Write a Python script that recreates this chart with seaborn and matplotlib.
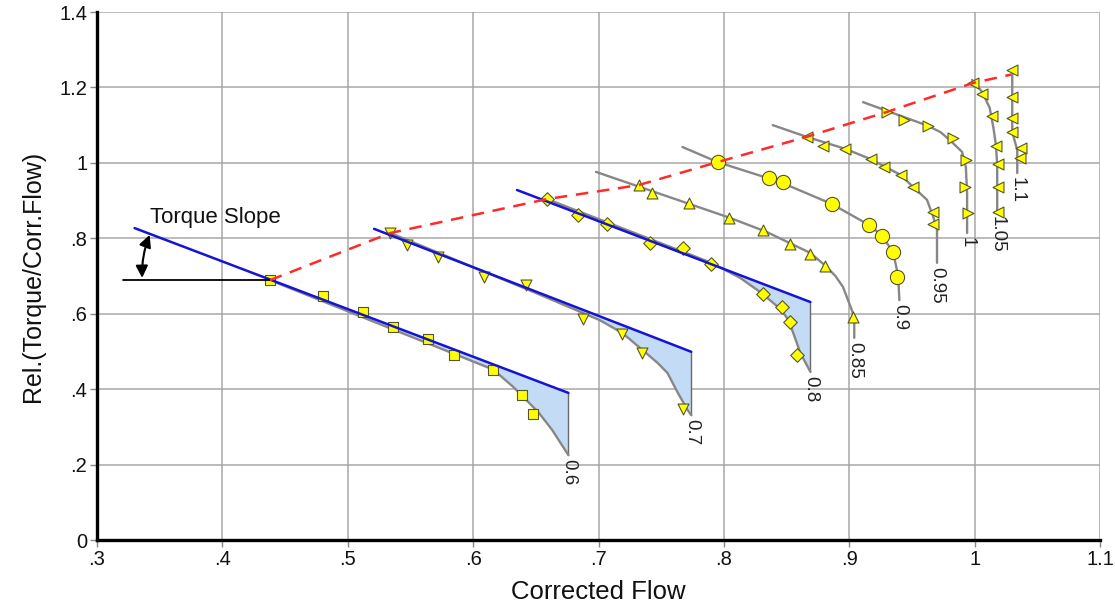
import matplotlib
matplotlib.use("Agg")
import matplotlib.pyplot as plt
from matplotlib import font_manager
import numpy as np
import pandas as pd
import seaborn as sns

# ---------------- data ----------------
x_ticks = [0.3, 0.4, 0.5, 0.6, 0.7, 0.8, 0.9, 1.0, 1.1]
x_tick_labels = [".3", ".4", ".5", ".6", ".7", ".8", ".9", "1", "1.1"]
y_ticks = [0.0, 0.2, 0.4, 0.6, 0.8, 1.0, 1.2, 1.4]
y_tick_labels = ["0", ".2", ".4", ".6", ".8", "1", "1.2", "1.4"]

speed_labels = ["0.6", "0.7", "0.8", "0.85", "0.9", "0.95", "1", "1.05", "1.1"]

# speed lines (grey curves)
c06_x = [0.438, 0.616, 0.632, 0.652, 0.663, 0.676]
c06_y = [0.689, 0.452, 0.406, 0.339, 0.292, 0.225]
c07_x = [0.534, 0.650, 0.701, 0.719, 0.735, 0.747, 0.755, 0.763, 0.771, 0.774]
c07_y = [0.814, 0.655, 0.583, 0.549, 0.504, 0.470, 0.443, 0.392, 0.345, 0.331]
c08_x = [0.659, 0.790, 0.813, 0.830, 0.846, 0.852, 0.855, 0.861, 0.869]
c08_y = [0.904, 0.735, 0.695, 0.655, 0.610, 0.580, 0.552, 0.496, 0.446]
c085_x = [0.698, 0.805, 0.834, 0.869, 0.881, 0.889, 0.895, 0.902, 0.904, 0.904]
c085_y = [0.976, 0.854, 0.817, 0.761, 0.727, 0.700, 0.671, 0.610, 0.591, 0.536]
c09_x = [0.767, 0.795, 0.845, 0.886, 0.917, 0.926, 0.935, 0.939, 0.940]
c09_y = [1.042, 1.002, 0.949, 0.891, 0.833, 0.806, 0.764, 0.700, 0.636]
c095_x = [0.839, 0.866, 0.897, 0.917, 0.941, 0.951, 0.962, 0.967, 0.970, 0.970]
c095_y = [1.100, 1.069, 1.037, 1.010, 0.968, 0.936, 0.902, 0.857, 0.822, 0.735]
c10_x = [0.911, 0.963, 0.973, 0.980, 0.990, 0.993, 0.994, 0.994]
c10_y = [1.161, 1.098, 1.081, 1.061, 1.029, 0.989, 0.920, 0.814]
c105_x = [0.998, 1.006, 1.012, 1.015, 1.017, 1.018, 1.018]
c105_y = [1.220, 1.188, 1.146, 1.093, 1.047, 0.994, 0.870]
c11_x = [1.030, 1.030, 1.034, 1.034]
c11_y = [1.236, 1.082, 1.034, 0.973]

# measured points (markers)
m06_x = [0.438, 0.480, 0.512, 0.536, 0.564, 0.585, 0.616, 0.639, 0.648]
m06_y = [0.689, 0.647, 0.605, 0.565, 0.533, 0.491, 0.451, 0.385, 0.334]
m07_x = [0.534, 0.547, 0.572, 0.609, 0.642, 0.688, 0.719, 0.735, 0.767]
m07_y = [0.814, 0.782, 0.750, 0.697, 0.676, 0.586, 0.546, 0.496, 0.347]
m08_x = [0.659, 0.684, 0.707, 0.741, 0.767, 0.790, 0.831, 0.846, 0.853, 0.858]
m08_y = [0.904, 0.862, 0.838, 0.788, 0.774, 0.732, 0.652, 0.618, 0.578, 0.491]
m085_x = [0.732, 0.743, 0.772, 0.804, 0.831, 0.853, 0.869, 0.881, 0.903]
m085_y = [0.941, 0.920, 0.894, 0.854, 0.822, 0.785, 0.758, 0.727, 0.591]
m09_x = [0.795, 0.836, 0.847, 0.886, 0.916, 0.926, 0.935, 0.938]
m09_y = [1.002, 0.960, 0.949, 0.891, 0.835, 0.806, 0.764, 0.697]
m095_x = [0.866, 0.879, 0.897, 0.917, 0.928, 0.941, 0.951, 0.967, 0.967]
m095_y = [1.069, 1.045, 1.037, 1.010, 0.989, 0.968, 0.936, 0.870, 0.838]
m10_x = [0.930, 0.944, 0.963, 0.983, 0.993, 0.992, 0.995]
m10_y = [1.135, 1.114, 1.098, 1.066, 1.008, 0.936, 0.867]
m105_x = [0.999, 1.006, 1.014, 1.017, 1.019, 1.019, 1.019]
m105_y = [1.212, 1.183, 1.124, 1.045, 0.997, 0.936, 0.870]
m11_x = [1.030, 1.030, 1.030, 1.030, 1.037, 1.036]
m11_y = [1.245, 1.175, 1.119, 1.082, 1.040, 1.013]

# torque slope (blue) lines
b06_x = [0.330, 0.676]
b06_y = [0.827, 0.390]
b07_x = [0.521, 0.774]
b07_y = [0.825, 0.499]
b08_x = [0.635, 0.869]
b08_y = [0.928, 0.631]

# surge line (red dashed)
surge_x = [0.438, 0.534, 0.659, 0.732, 0.795, 0.866, 0.930, 0.999, 1.029]
surge_y = [0.689, 0.814, 0.904, 0.941, 1.002, 1.069, 1.135, 1.212, 1.234]

# torque slope annotation
ts_ref_x = [0.321, 0.438]
ts_ref_y = [0.690, 0.690]

# ---------------- style ----------------
sns.set_theme(style="white")
fams = {f.name for f in font_manager.fontManager.ttflist}
base = "Liberation Sans" if "Liberation Sans" in fams else "DejaVu Sans"
plt.rcParams["font.family"] = [base, "DejaVu Sans"]

fig = plt.figure(figsize=(11.15, 6.07), dpi=100)
ax = fig.add_axes([97 / 1115, 1 - 540 / 607, (1100 - 97) / 1115, (540 - 12) / 607])

GRAY = "#878787"
BLUE = "#1414d2"
FILL = "#c4dbf5"
YEL = "#ffff00"
EDGE = "#55552a"

curves = [(c06_x, c06_y), (c07_x, c07_y), (c08_x, c08_y), (c085_x, c085_y),
          (c09_x, c09_y), (c095_x, c095_y), (c10_x, c10_y), (c105_x, c105_y),
          (c11_x, c11_y)]
markers = [(m06_x, m06_y, "s", 58), (m07_x, m07_y, "v", 62), (m08_x, m08_y, "D", 48),
           (m085_x, m085_y, "^", 62), (m09_x, m09_y, "o", 105), (m095_x, m095_y, "<", 62),
           (m10_x, m10_y, ">", 62), (m105_x, m105_y, "<", 62), (m11_x, m11_y, "<", 62)]
blues = [(b06_x, b06_y, c06_x, c06_y), (b07_x, b07_y, c07_x, c07_y), (b08_x, b08_y, c08_x, c08_y)]

# fills between blue slope line and grey curve
for bx, by, cx, cy in blues:
    cx_a = np.array(cx)
    upper = np.interp(cx_a, bx, by)
    lower = np.array(cy)
    ax.fill_between(cx_a, upper, lower, where=lower <= upper + 1e-9,
                    color=FILL, lw=0, zorder=2, interpolate=True)
    ax.plot([bx[-1], bx[-1]], [by[-1], cy[-1]], color="#6a6a6a", lw=1.0, zorder=3)

# grey speed curves
for cx, cy in curves:
    sns.lineplot(x=cx, y=cy, sort=False, estimator=None, color=GRAY, lw=1.7, ax=ax,
                 zorder=3, solid_joinstyle="round")

# markers
for mx, my, mk, s in markers:
    sns.scatterplot(x=mx, y=my, marker=mk, s=s, color=YEL, edgecolor=EDGE,
                    linewidth=0.8, ax=ax, zorder=4, legend=False)

# blue torque slope lines
for bx, by, cx, cy in blues:
    sns.lineplot(x=bx, y=by, sort=False, estimator=None, color=BLUE, lw=1.8, ax=ax, zorder=5)

# red surge line
ax.plot(surge_x, surge_y, color="#ff2a2a", lw=1.8, dashes=(5, 3.5), zorder=6)

# speed labels
for (cx, cy), lab in zip(curves, speed_labels):
    ax.annotate(lab, xy=(cx[-1], cy[-1]), xytext=(0, -3), textcoords="offset points",
                rotation=-90, ha="center", va="top", fontsize=13.5, color="#222222", zorder=7)

# torque slope annotation
ax.plot(ts_ref_x, ts_ref_y, color="black", lw=1.3, zorder=5)
ax.annotate("", xy=(0.342, 0.809), xytext=(0.336, 0.695),
            arrowprops=dict(arrowstyle="<|-|>", color="black", lw=1.5, mutation_scale=18,
                            shrinkA=0, shrinkB=0, connectionstyle="arc3,rad=-0.1"), zorder=6)
ax.text(0.342, 0.854, "Torque Slope", fontsize=16, ha="left", va="center", color="#111111")

# axes
ax.set_xlim(0.3, 1.1)
ax.set_ylim(0.0, 1.4)
ax.set_xticks(x_ticks)
ax.set_xticklabels(x_tick_labels)
ax.set_yticks(y_ticks)
ax.set_yticklabels(y_tick_labels)
ax.grid(True, color="#a8a8a8", lw=1.1)
ax.set_axisbelow(True)
for side in ["top", "right"]:
    ax.spines[side].set_visible(False)
for side in ["left", "bottom"]:
    ax.spines[side].set_color("black")
    ax.spines[side].set_linewidth(2.4)
ax.tick_params(axis="both", which="major", direction="out", length=5, width=1,
               color="#888888", labelsize=14.5, labelcolor="#111111", pad=2, bottom=True, left=True)
ax.set_xlabel("Corrected Flow", fontsize=18.5, color="#111111", labelpad=8)
ax.set_ylabel("Rel.(Torque/Corr.Flow)", fontsize=18, color="#111111", labelpad=10)

fig.savefig("out.png", dpi=100)
